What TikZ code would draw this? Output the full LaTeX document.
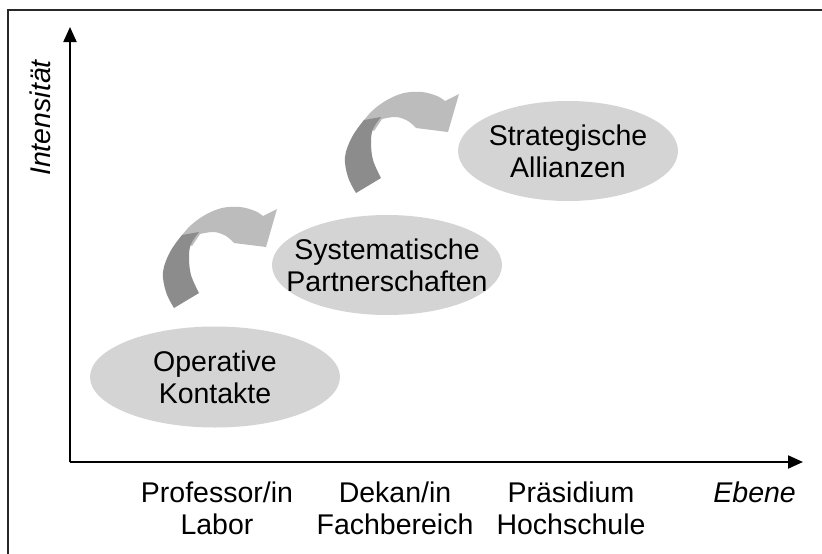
\documentclass[tikz,border=0pt]{standalone}
\usepackage{fontspec}
\setmainfont{Liberation Sans}
\usetikzlibrary{shapes.geometric,arrows.meta}
\definecolor{ellgray}{RGB}{212,212,212}
\definecolor{arrdark}{RGB}{140,140,140}
\definecolor{arrlight}{RGB}{188,188,188}
\definecolor{framegray}{RGB}{40,40,40}
\newcommand\myBentArrow{%
  \fill[arrlight] plot[smooth, tension=0.6] coordinates {(180,238) (190,226) (205,215) (222,208) (240,207) (255,211) (263,216)}
     -- (277,209) -- (266,247) -- (234,243)
     -- plot[smooth, tension=0.6] coordinates {(234,243) (226,236) (214,232) (200,234)}
     -- (192,246) -- cycle;
  \fill[arrdark] plot[smooth, tension=0.6] coordinates {(182,235) (170,252) (163,272) (166,292) (174,308)}
     -- (199,293)
     -- plot[smooth, tension=0.6] coordinates {(199,293) (191,275) (189,257) (191,244) (199,232)}
     -- cycle;
}
\begin{document}
\begin{tikzpicture}[x=1pt,y=-1pt,
  txt/.style={font=\fontsize{28.5}{32}\selectfont, align=center, inner sep=0pt},
  blob/.style={ellipse, fill=ellgray, draw=none, inner sep=0pt},
  axis/.style={line width=2pt, -{Triangle[length=15pt,width=13pt]}}]
\useasboundingbox (0,0) rectangle (822,554);
\fill[white] (0,0) rectangle (822,554);
\draw[line width=2pt, framegray] (8,560) -- (8,10) -- (830,10);
% axes
\coordinate (O) at (70,462);
\coordinate (Ytip) at (70,27);
\coordinate (Xtip) at (803,462);
\draw[axis] (O) -- (Ytip);
\draw[axis] (O) -- (Xtip);
% axis labels
\node[txt, rotate=90, font=\fontsize{28.5}{32}\selectfont\itshape] (ylab) at (40,118) {Intensität};
\node[txt, font=\fontsize{28.5}{32}\selectfont\itshape, anchor=east] (xlab) at (796,492) {Ebene};
\node[txt] (l1) at (217,508) {Professor/in\\Labor};
\node[txt] (l2) at (395,508) {Dekan/in\\Fachbereich};
\node[txt] (l3) at (571,508) {Präsidium\\Hochschule};
% ellipses
\node[blob, minimum width=250pt, minimum height=101pt] (e1) at (215,377) {};
\node[blob, minimum width=230pt, minimum height=100pt] (e2) at (387,265) {};
\node[blob, minimum width=220pt, minimum height=100pt] (e3) at (568,151) {};
\node[txt] (t1) at (e1) {Operative\\Kontakte};
\node[txt] (t2) at (e2) {Systematische\\Partnerschaften};
\node[txt] (t3) at (e3) {Strategische\\Allianzen};
% bent arrows
\myBentArrow
\begin{scope}[shift={(182,-115)}]
\myBentArrow
\end{scope}
\end{tikzpicture}
\end{document}
